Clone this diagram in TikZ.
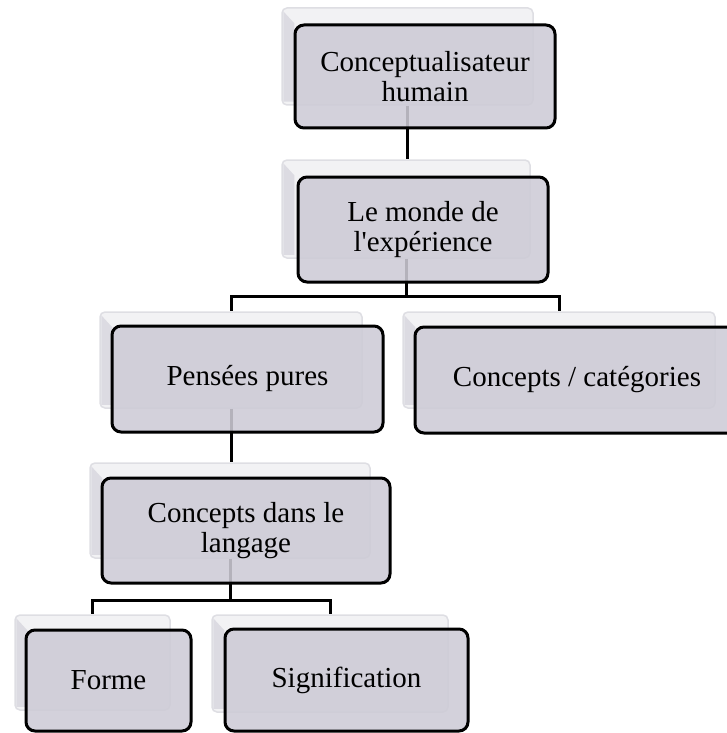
\documentclass[tikz,border=0pt]{standalone}
\usepackage{fontspec}
\setmainfont[Ligatures=TeXOff]{Liberation Serif}
\definecolor{boxfill}{RGB}{205,203,214}
\definecolor{ghostfill}{RGB}{242,242,244}
\definecolor{ghostline}{RGB}{222,222,227}
\definecolor{ghostband}{RGB}{220,219,226}
\begin{document}
\begin{tikzpicture}[x=1pt,y=-1pt,
  ghost/.style={draw=ghostline, line width=1.5pt, fill=ghostfill, rounded corners=5pt, inner sep=0pt},
  mainbox/.style={draw=black, line width=3pt, fill=boxfill, fill opacity=0.88, text opacity=1,
    rounded corners=9pt, inner sep=0pt, align=center, font=\fontsize{29}{30}\selectfont},
  conn/.style={draw=black, line width=3pt}]
\useasboundingbox (0,0) rectangle (726,733);
% ghost (offset) boxes
\node[ghost, minimum width=251pt, minimum height=97pt] (g1) at (407.5,56.5) {};
\node[ghost, minimum width=248pt, minimum height=98pt] (g2) at (406,209) {};
\node[ghost, minimum width=262pt, minimum height=96pt] (g3) at (231,360) {};
\node[ghost, minimum width=312pt, minimum height=96pt] (g4) at (559,360) {};
\node[ghost, minimum width=280pt, minimum height=95pt] (g5) at (230,510.5) {};
\node[ghost, minimum width=155pt, minimum height=95pt] (g6) at (92.5,662.5) {};
\node[ghost, minimum width=236pt, minimum height=97pt] (g7) at (330,663.5) {};
\foreach \g in {g1,g2,g3,g4,g5,g6,g7}{
  \fill[ghostband] ([xshift=2pt,yshift=-4pt]\g.north west) -- ([xshift=13pt,yshift=-16pt]\g.north west)
    -- ([xshift=13pt,yshift=4pt]\g.south west) -- ([xshift=2pt,yshift=4pt]\g.south west) -- cycle;
}
% connectors
\coordinate (bus1) at (0,296);
\coordinate (bus2) at (0,600);
\draw[conn] (g1.south) -- (g1.south |- g2.north);
\draw[conn] (g2.south) -- (g2.south |- bus1) -| (g3.north);
\draw[conn] (g2.south |- bus1) -| (g4.north);
\draw[conn] (g3.south) -- (g3.south |- g5.north);
\draw[conn] (g5.south) -- (g5.south |- bus2) -| (g6.north);
\draw[conn] (g5.south |- bus2) -| (g7.north);
% main boxes
\node[mainbox, minimum width=260pt, minimum height=103pt] (b1) at (425,76.5) {Conceptualisateur\\humain};
\node[mainbox, minimum width=250pt, minimum height=105pt] (b2) at (423,229.5) {Le monde de\\l'expérience};
\node[mainbox, minimum width=271pt, minimum height=106pt] (b3) at (247.5,379) {Pensées pures};
\node[mainbox, minimum width=324pt, minimum height=106pt] (b4) at (577,380) {Concepts / catégories};
\node[mainbox, minimum width=288pt, minimum height=105pt] (b5) at (246,530.5) {Concepts dans le\\langage};
\node[mainbox, minimum width=165pt, minimum height=101pt] (b6) at (108.5,680.5) {Forme};
\node[mainbox, minimum width=243pt, minimum height=102pt] (b7) at (346.5,680) {Signification};
\end{tikzpicture}
\end{document}
